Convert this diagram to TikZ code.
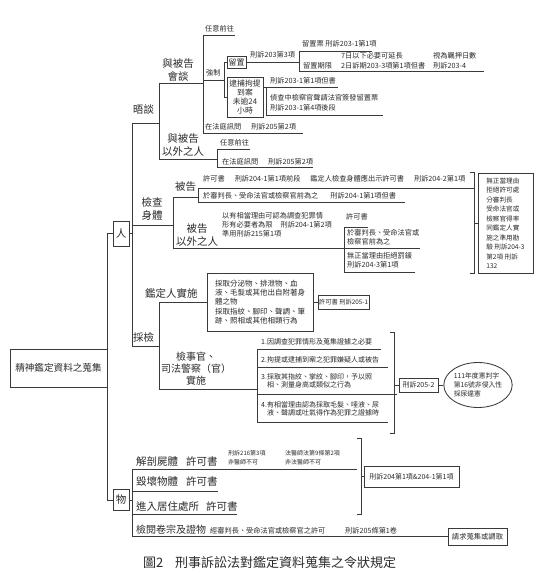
\documentclass[tikz,border=0pt]{standalone}
\usepackage{fontspec}
\setmainfont{Noto Sans CJK TC}
\usetikzlibrary{shapes.geometric}
\definecolor{lc}{HTML}{3A3A3A}
\definecolor{tc}{HTML}{2A2A2A}
\begin{document}
\begin{tikzpicture}[x=1pt,y=-1pt,
 ln/.style={draw=lc,line width=0.85pt},
 big/.style={font=\fontsize{10.5}{13}\selectfont,inner sep=0pt,text=tc},
 sm/.style={font=\fontsize{7.2}{9}\selectfont,inner sep=0pt,text=tc,anchor=west},
 bx/.style={draw=lc,line width=0.85pt,inner sep=0pt,text=tc}]
\useasboundingbox (0,0) rectangle (550,576);

% root and trunk
\node[bx,minimum width=97pt,minimum height=38pt,font=\fontsize{9.6}{11}\selectfont] (root) at (58.5,368) {精神鑑定資料之蒐集};
\draw[ln] (107,233.5) -- (107,500);
\node[bx,minimum width=16pt,minimum height=25pt,font=\fontsize{10.5}{12}\selectfont] (ren) at (121,233.5) {人};
\node[bx,minimum width=16pt,minimum height=21pt,font=\fontsize{10.5}{12}\selectfont] (wu) at (121,500) {物};
\draw[ln] (107,233.5) -- (ren.west);
\draw[ln] (ren.east) -- (132,233.5);
\draw[ln] (107,500) -- (wu.west);
\draw[ln] (wu.east) -- (132,500);

% person branch
\draw[ln] (132,123) -- (132,346);
\node[big,anchor=west] (wutan) at (133,110) {晤談};
\draw[ln] (132,123) -- (159,123);
\node[big,align=center] (jcst) at (152,208.5) {檢查\\身體};
\draw[ln] (132,225) -- (173,225);
\node[big,anchor=west] (caijian) at (133,337) {採檢};
\draw[ln] (132,346) -- (159,346);

% interview
\draw[ln] (159,83) -- (159,159);
\node[big,align=center] (ybg) at (178,70.5) {與被告\\會談};
\draw[ln] (159,83) -- (203,83);
\draw[ln] (203,35) -- (203,133);
\node[sm] (ry1) at (205,29) {任意前往};
\draw[ln] (203,35) -- (235,35);
\node[sm] (qz) at (206,73) {強制};
\draw[ln] (203,80) -- (224,80);
\draw[ln] (224,62) -- (224,97);
\node[bx,minimum width=19pt,minimum height=12pt,font=\fontsize{8}{9}\selectfont] (lz) at (236.5,62) {留置};
\draw[ln] (224,62) -- (lz.west);
\node[bx,minimum width=36pt,minimum height=40pt,align=center,font=\fontsize{7.8}{8.7}\selectfont] (db) at (245,97) {逮捕拘提\\到案\\未逾24\\小時};
\draw[ln] (224,97) -- (db.west);
\draw[ln] (lz.east) -- (299,62);
\node[sm] (t1) at (250,55) {刑訴203第3項};
\draw[ln] (299,51) -- (299,71);
\node[sm] (t2) at (302,44) {留置票\ 刑訴203-1第1項};
\draw[ln] (299,51) -- (372,51);
\node[sm] (t3) at (341,56) {7日以下必要可延長};
\node[sm] (t4) at (433,56) {視為羈押日數};
\node[sm] (t5) at (303,66) {留置期限};
\node[sm] (t6) at (341,66) {2日訴期203-3項第1項但書};
\node[sm] (t7) at (433,66) {刑訴203-4};
\draw[ln] (299,71) -- (484,71);
\draw[ln] (263,87) -- (338,87);
\node[sm] (t8) at (270,81) {刑訴203-1第1項但書};
\draw[ln] (266,87) -- (266,115) -- (383,115);
\node[sm] (t9) at (270,98) {偵查中檢察官聲請法官簽發留置票};
\node[sm] (t10) at (270,108) {刑訴203-1第4項後段};
\node[sm] (t11) at (205,127) {在法庭訊問\hspace{10pt}刑訴205第2項};
\draw[ln] (203,133) -- (303,133);

% other than defendant
\node[big,align=center] (ybgyw) at (183,145.5) {與被告\\以外之人};
\draw[ln] (159,159) -- (217,159);
\draw[ln] (217,149) -- (217,167);
\node[sm] (t12) at (220,143) {任意前往};
\draw[ln] (217,149) -- (250,149);
\node[sm] (t13) at (222,161.5) {在法庭訊問\hspace{10pt}刑訴205第2項};
\draw[ln] (217,167) -- (313,167);

% body examination
\draw[ln] (173,197) -- (173,248);
\node[big,anchor=west] (bg1) at (175,187) {被告};
\draw[ln] (173,197) -- (198,197);
\draw[ln] (198,188) -- (198,202);
\node[sm] (t14) at (203,179) {許可書\hspace{10pt}刑訴204-1第1項前段\hspace{10pt}鑑定人檢查身體應出示許可書\hspace{10pt}刑訴204-2第1項};
\draw[ln] (198,188) -- (474,188);
\node[sm] (t15) at (203,195.5) {於審判長、受命法官或檢察官前為之\hspace{12pt}刑訴204-1第1項但書};
\draw[ln] (198,202) -- (405,202);
\node[big,align=center] (bg2) at (197,235) {被告\\以外之人};
\draw[ln] (173,248) -- (420,248);
\node[sm,align=left,font=\fontsize{7.2}{9.2}\selectfont] (t16) at (222,224.5) {以有相當理由可認為調查犯罪情\\形有必要者為限\hspace{8pt}刑訴204-1第2項\\準用刑訴215第1項};
\node[sm] (t17) at (346,217) {許可書};
\draw[ln] (344,227) -- (368,227);
\draw[ln] (344,227) -- (344,272);
\node[sm,align=left] (t18) at (347,237) {於審判長、受命法官或\\檢察官前為之};
\node[sm,align=left] (t19) at (347,260) {無正當理由拒絕罰鍰\\刑訴204-3第1項};
\draw[ln] (344,272) -- (415,272);
\draw[ln] (470,172) -- (474,172) -- (474,273) -- (470,273);
\node[bx,minimum width=55pt,minimum height=100pt,align=left,font=\fontsize{6.6}{9.5}\selectfont] (wz) at (505.5,223) {無正當理由\\拒絕許可處\\分審判長\\受命法官或\\檢察官得率\\同鑑定人實\\施之準用勘\\驗 刑訴204-3\\第2項 刑訴\\132};
\draw[ln] (474,223) -- (wz.west);

% sampling
\draw[ln] (159,302) -- (159,389);
\node[big,anchor=west] (jdr) at (145,293) {鑑定人實施};
\node[bx,minimum width=106pt,minimum height=58pt,align=left,font=\fontsize{7.5}{9.2}\selectfont] (jd) at (260,302) {採取分泌物、排泄物、血\\液、毛髮或其他出自附著身\\體之物\\採取指紋、腳印、聲調、筆\\跡、照相或其他相類行為};
\draw[ln] (159,302) -- (jd.west);
\node[bx,minimum width=51pt,minimum height=14pt,font=\fontsize{6.3}{8}\selectfont] (xk) at (343.5,302) {許可書\ 刑訴205-1};
\draw[ln] (jd.east) -- (xk.west);
\node[big,align=center,font=\fontsize{10}{12}\selectfont] (jsg) at (196,369) {檢事官、\\司法警察（官）\\實施};
\draw[ln] (159,389) -- (257,389);
\draw[ln] (257,349) -- (257,422);
\draw[ln] (257,349) -- (381,349);
\draw[ln] (257,367) -- (388,367);
\draw[ln] (257,394) -- (397,394);
\draw[ln] (257,422) -- (388,422);
\node[sm,font=\fontsize{7}{8.5}\selectfont] (i1) at (261,342) {1.因調查犯罪情形及蒐集證據之必要};
\node[sm,font=\fontsize{7}{8.5}\selectfont] (i2) at (261,359.5) {2.拘提或逮捕到案之犯罪嫌疑人或被告};
\node[sm,align=left,font=\fontsize{7}{8.5}\selectfont] (i3) at (261,381) {3.採取其指紋、掌紋、腳印，予以照\\\phantom{3.}相、測量身高或類似之行為};
\node[sm,align=left,font=\fontsize{7}{8.5}\selectfont] (i4) at (261,409) {4.有相當理由認為採取毛髮、唾液、尿\\\phantom{4.}液、聲調或吐氣得作為犯罪之證據時};
\draw[ln] (390,332) -- (394,332) -- (394,433) -- (390,433);
\node[bx,minimum width=39pt,minimum height=14pt,font=\fontsize{7}{8}\selectfont] (k2052) at (418.5,385) {刑訴205-2};
\draw[ln] (394,385) -- (k2052.west);
\node[draw=lc,line width=0.85pt,ellipse,minimum width=68pt,minimum height=45pt,inner sep=0pt,align=left,text=tc,font=\fontsize{6.8}{9}\selectfont] (el) at (478,385) {111年度憲判字\\第16號非侵入性\\採尿違憲};
\draw[ln] (k2052.east) -- (el.west);

% things
\draw[ln] (132,469) -- (132,537);
\node[big,anchor=west] (w1) at (136,462) {解剖屍體};
\node[big,anchor=west] (w1b) at (186,462) {許可書};
\node[sm,align=left,font=\fontsize{6}{9}\selectfont] (w1c) at (228,457.5) {刑訴216第3項\\非醫師不可};
\node[sm,align=left,font=\fontsize{6}{9}\selectfont] (w1d) at (285,457.5) {法醫師法第9條第2項\\非法醫師不可};
\draw[ln] (132,469) -- (357,469);
\draw[ln] (357,438) -- (361,438) -- (361,514) -- (357,514);
\node[bx,minimum width=95pt,minimum height=21pt,font=\fontsize{7}{8}\selectfont] (k204) at (411.5,476.5) {刑訴204第1項\&204-1第1項};
\draw[ln] (361,476.5) -- (k204.west);
\node[big,anchor=west] (w2) at (136,482) {毀壞物體};
\node[big,anchor=west] (w2b) at (186,482) {許可書};
\draw[ln] (132,491) -- (218,491);
\node[big,anchor=west] (w3) at (136,507) {進入居住處所};
\node[big,anchor=west] (w3b) at (206,507) {許可書};
\draw[ln] (132,514) -- (237,514);
\node[big,anchor=west,font=\fontsize{10}{12}\selectfont] (w4) at (136,530) {檢閱卷宗及證物};
\node[sm] (w4b) at (210,530.5) {經審判長、受命法官或檢察官之許可};
\node[sm] (w4c) at (345,530.5) {刑訴205條第1卷};
\node[bx,minimum width=59pt,minimum height=17pt,font=\fontsize{7.3}{8}\selectfont] (qq) at (477.5,536.5) {請求蒐集或調取};
\draw[ln] (132,536.5) -- (qq.west);

% caption
\node[anchor=west,inner sep=0pt,text=tc,font=\fontsize{13}{15}\selectfont] (cap1) at (143,563) {圖2};
\node[anchor=west,inner sep=0pt,text=tc,font=\fontsize{13}{15}\selectfont] (cap2) at (175,563) {刑事訴訟法對鑑定資料蒐集之令狀規定};
\end{tikzpicture}
\end{document}
